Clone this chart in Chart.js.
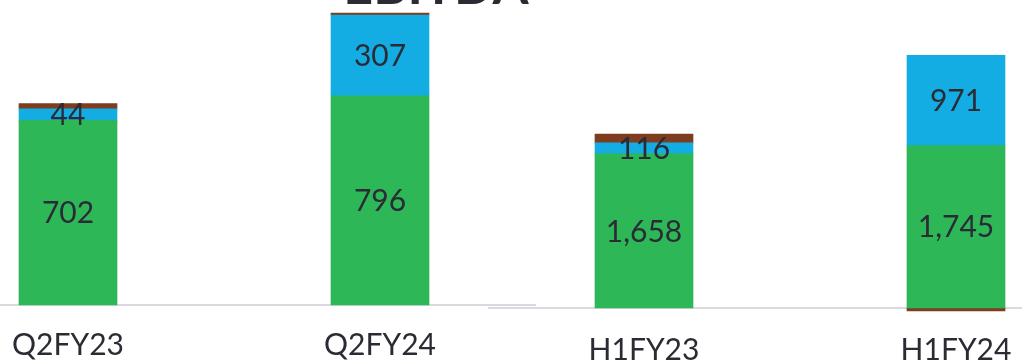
<!DOCTYPE html>
<html>
<head>
<meta charset="utf-8">
<script src="https://cdn.jsdelivr.net/npm/chart.js@4.4.1/dist/chart.umd.min.js"></script>
<style>
  html, body { margin: 0; padding: 0; background: #fff; }
  body { width: 1022px; height: 362px; overflow: hidden; position: relative; font-family: Lato, sans-serif; }
  #title { position: absolute; left: 336px; width: 200px; top: -47px; text-align: center;
           font: bold 52px Lato, sans-serif; color: #2b2b33; white-space: nowrap; }
  #wrapQ { position: absolute; left: -88px; top: 0; width: 624px; height: 385px; }
  #wrapH { position: absolute; left: 488px; top: 0; width: 624px; height: 392px; }
</style>
</head>
<body>
<div id="title">EBITDA</div>
<div id="wrapQ"><canvas id="chartQ"></canvas></div>
<div id="wrapH"><canvas id="chartH"></canvas></div>
<script>
// quarter panel
const quarterLabels = ['Q2FY23', 'Q2FY24'];
const quarterGreen = [702, 796];
const quarterBlue = [44, 307];
const quarterBrown = [20, 7];

// half-year panel
const halfLabels = ['H1FY23', 'H1FY24'];
const halfGreen = [1658, 1745];
const halfBlue = [116, 971];
const halfBrown = [94, -32];

const GREEN = '#2db757';
const BLUE = '#13ade3';
const BROWN = '#7f3d1f';

// draws the value in the middle of the green and blue segments
const segmentLabels = {
    id: 'segmentLabels',
    afterDatasetsDraw(chart) {
        const ctx = chart.ctx;
        ctx.save();
        ctx.font = '30px Lato, sans-serif';
        ctx.fillStyle = '#2b2b36';
        ctx.textAlign = 'center';
        ctx.textBaseline = 'middle';
        [0, 1].forEach(di => {
            const meta = chart.getDatasetMeta(di);
            meta.data.forEach((bar, i) => {
                const v = chart.data.datasets[di].data[i];
                ctx.fillText(v.toLocaleString('en-US'), bar.x, (bar.y + bar.base) / 2 + 1);
            });
        });
        ctx.restore();
    }
};

function makeChart(id, labels, green, blue, brown, yMax, tickPad) {
    return new Chart(document.getElementById(id), {
        type: 'bar',
        data: {
            labels: labels,
            datasets: [
                { label: 'Green', data: green, backgroundColor: GREEN },
                { label: 'Blue', data: blue, backgroundColor: BLUE },
                { label: 'Brown', data: brown, backgroundColor: BROWN }
            ]
        },
        options: {
            responsive: true,
            maintainAspectRatio: false,
            animation: false,
            layout: { padding: 0 },
            datasets: { bar: { barThickness: 98, clip: false, borderWidth: 0 } },
            plugins: { legend: { display: false }, tooltip: { enabled: false } },
            scales: {
                x: {
                    stacked: true,
                    grid: { display: false, drawTicks: false },
                    border: { display: true, color: '#d9d9df', width: 2 },
                    ticks: { color: '#2b2b33', padding: tickPad, font: { family: 'Lato', size: 30 } }
                },
                y: {
                    stacked: true,
                    display: false,
                    min: 0,
                    max: yMax
                }
            }
        },
        plugins: [segmentLabels]
    });
}

makeChart('chartQ', quarterLabels, quarterGreen, quarterBlue, quarterBrown, 1160, 22);
makeChart('chartH', halfLabels, halfGreen, halfBlue, halfBrown, 3310, 24);
</script>
</body>
</html>
